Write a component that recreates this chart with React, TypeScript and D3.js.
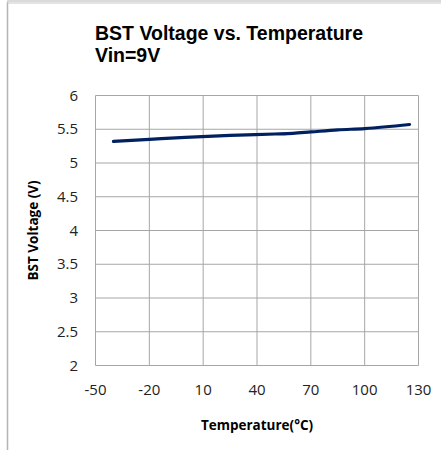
import React from 'react';
import * as d3 from 'd3';

// chart data
const temps = [-40, -20, 0, 25, 50, 60, 70, 85, 100, 125];
const bstVolts = [5.32, 5.35, 5.38, 5.41, 5.43, 5.44, 5.46, 5.49, 5.51, 5.57];
const xTicks = [-50, -20, 10, 40, 70, 100, 130];
const yTicks = [2, 2.5, 3, 3.5, 4, 4.5, 5, 5.5, 6];
const titleLines = ['BST Voltage vs. Temperature', 'Vin=9V'];

const W = 441;
const H = 450;
const font = "'Open Sans', 'Liberation Sans', sans-serif";
const titleFont = "'Liberation Sans', Arial, sans-serif";

const App: React.FC = () => {
  const x = d3.scaleLinear().domain([-50, 130]).range([95.5, 418.5]);
  const y = d3.scaleLinear().domain([2, 6]).range([365.5, 95.5]);

  const pts: [number, number][] = temps.map((t, i) => [t, bstVolts[i]]);
  const line = d3.line<[number, number]>()
    .x(d => x(d[0]))
    .y(d => y(d[1]))
    .curve(d3.curveMonotoneX);

  const grid = '#a6a6a6';

  return (
    <div style={{ position: 'fixed', left: 0, top: 0 }}>
      <svg width={W} height={H} style={{ display: 'block', background: '#fff' }}>
        {/* outer frame */}
        <line x1={7.5} y1={2} x2={7.5} y2={H} stroke="#b4b4b4" strokeWidth={1.5} />
        <line x1={7} y1={1} x2={W} y2={1} stroke="#b4b4b4" strokeWidth={1} />
        <line x1={7} y1={3} x2={W} y2={3} stroke="#c8c8c8" strokeWidth={1} />

        {/* title */}
        {titleLines.map((t, i) => (
          <text key={t} x={95} y={40 + i * 22} fontFamily={titleFont} fontWeight={700}
            fontSize={19.5} fill="#000">{t}</text>
        ))}

        {/* grid */}
        {yTicks.map(v => (
          <line key={'gy' + v} x1={x(-50)} x2={x(130)} y1={y(v)} y2={y(v)} stroke={grid} strokeWidth={1} />
        ))}
        {xTicks.map(v => (
          <line key={'gx' + v} x1={x(v)} x2={x(v)} y1={y(2)} y2={y(6)} stroke={grid} strokeWidth={1} />
        ))}

        {/* y tick labels */}
        {yTicks.map(v => (
          <text key={'ty' + v} x={78} y={y(v) + 5} textAnchor="end" fontFamily={font}
            fontSize={15} fill="#222">{v}</text>
        ))}
        {/* x tick labels */}
        {xTicks.map(v => (
          <text key={'tx' + v} x={x(v)} y={395} textAnchor="middle" fontFamily={font}
            fontSize={15} fill="#222">{v}</text>
        ))}

        {/* series */}
        <path d={line(pts) || ''} fill="none" stroke="#002060" strokeWidth={3.2}
          strokeLinecap="round" strokeLinejoin="round" />

        {/* axis titles */}
        <text x={257} y={430} textAnchor="middle" fontFamily={font} fontWeight={700}
          fontSize={13.5} fill="#000">Temperature(°C)</text>
        <text transform={`translate(38, ${y(4)}) rotate(-90)`} textAnchor="middle"
          fontFamily={font} fontWeight={700} fontSize={13.5} fill="#000">BST Voltage (V)</text>
      </svg>
    </div>
  );
};

export default App;
